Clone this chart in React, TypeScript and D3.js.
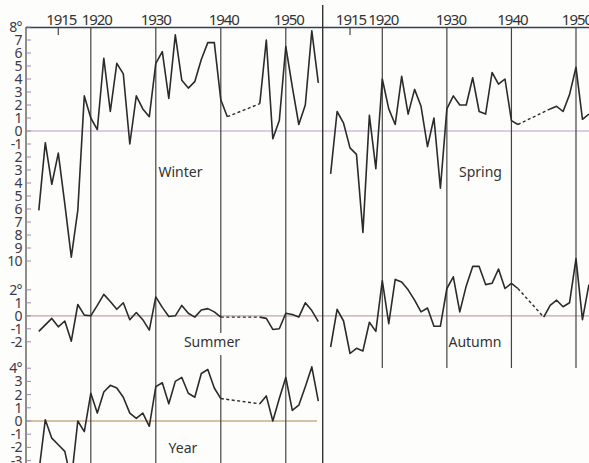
import React from 'react';
import * as d3 from 'd3';

const yearsLeft = [1912,1913,1914,1915,1916,1917,1918,1919,1920,1921,1922,1923,1924,1925,1926,1927,1928,1929,1930,1931,1932,1933,1934,1935,1936,1937,1938,1939,1940,1941,1942,1943,1944,1945,1946,1947,1948,1949,1950,1951,1952,1953,1954,1955];
const yearsRight = [1912,1913,1914,1915,1916,1917,1918,1919,1920,1921,1922,1923,1924,1925,1926,1927,1928,1929,1930,1931,1932,1933,1934,1935,1936,1937,1938,1939,1940,1941,1942,1943,1944,1945,1946,1947,1948,1949,1950,1951,1952];

const winter = [-6.1,-0.9,-4.1,-1.7,-5.6,-9.7,-6.1,2.7,1.0,0.1,5.6,1.5,5.2,4.4,-1.0,2.7,1.7,1.1,5.2,6.1,2.5,7.4,3.9,3.3,3.8,5.5,6.8,6.8,2.4,1.1,null,null,null,null,2.1,7.0,-0.6,0.8,6.5,3.4,0.5,2.0,7.7,3.7];
const summer = [-1.2,-0.7,-0.2,-0.85,-0.4,-1.95,0.87,0.05,0.0,0.8,1.65,1.1,0.5,1.0,-0.3,0.25,-0.3,-1.1,1.45,0.65,-0.05,0.0,0.8,0.2,-0.1,0.45,0.55,0.3,-0.1,null,null,null,null,null,-0.1,-0.2,-1.05,-1.0,0.2,0.1,-0.1,1.0,0.4,-0.45];
const yearMean = [-3.9,0.1,-1.3,-1.8,-2.3,-4.5,0.0,-0.8,2.1,0.6,2.2,2.7,2.5,1.8,0.6,0.2,0.6,-0.4,2.6,2.9,1.3,3.0,3.3,2.1,1.8,3.6,3.9,2.5,1.7,null,null,null,null,null,1.3,1.9,0.0,1.7,3.3,0.8,1.2,2.6,4.1,1.5];
const spring = [-3.3,1.5,0.6,-1.3,-1.8,-7.8,1.2,-2.9,4.0,1.7,0.5,4.2,1.3,3.2,1.9,-1.2,1.0,-4.4,1.7,2.7,2.0,2.0,4.1,1.5,1.3,4.5,3.6,4.0,0.8,0.5,null,null,null,null,1.7,1.9,1.5,2.8,4.9,0.9,1.3];
const autumn = [-2.4,0.5,-0.4,-2.9,-2.5,-2.7,-0.5,-1.2,2.7,-0.6,2.8,2.6,2.0,1.2,0.3,0.6,-0.8,-0.8,2.1,3.0,0.3,2.3,3.8,3.8,2.4,2.5,3.6,2.1,2.5,2.1,null,null,null,-0.1,0.8,1.2,0.7,1.0,4.4,-0.3,2.4];

const decadeYears = [1920, 1930, 1940, 1950];
const tickYear = 1915;

const winterTicks = [8,7,6,5,4,3,2,1,0,-1,-2,-3,-4,-5,-6,-7,-8,-9,-10];
const winterLabels = ['8°','7','6','5','4','3','2','1','0','-1','2','3','4','5','6','7','8','9','10'];
const summerTicks = [2,1,0,-1,-2];
const summerLabels = ['2°','1','0','-1','-2'];
const yearTicks = [4,3,2,1,0,-1,-2,-3];
const yearLabels = ['4°','3','2','1','0','-1','-2','-3'];

const W = 589, H = 463;
const FONT = "'Noto Sans', 'DejaVu Sans', sans-serif";
const INK = '#2b2b2b';

const xL = d3.scaleLinear().domain([1920, 1950]).range([90.8, 285.8]);
const xR = d3.scaleLinear().domain([1920, 1950]).range([382.3, 576]);
const yWin = d3.scaleLinear().domain([0, 8]).range([131, 27]);
const ySum = d3.scaleLinear().domain([0, 2]).range([315.8, 289.8]);
const yYr = d3.scaleLinear().domain([0, 4]).range([421, 368.2]);

function series(years: number[], vals: (number | null)[], x: any, y: any) {
  const pts = years.map((yr, i) => [yr, vals[i]] as [number, number | null]);
  const line = d3.line<[number, number | null]>()
    .defined(d => d[1] != null)
    .x(d => x(d[0]))
    .y(d => y(d[1] as number));
  const solid = line(pts) || '';
  const dashed: string[] = [];
  for (let i = 0; i < pts.length - 1; i++) {
    if (pts[i][1] != null && pts[i + 1][1] == null) {
      let j = i + 1;
      while (j < pts.length && pts[j][1] == null) j++;
      if (j < pts.length) {
        dashed.push(d3.line<[number, number | null]>().x(d => x(d[0])).y(d => y(d[1] as number))([pts[i], pts[j]]) || '');
      }
    }
  }
  return { solid, dashed };
}

function Series({ years, vals, x, y }: any) {
  const s = series(years, vals, x, y);
  return (
    <g>
      <path d={s.solid} fill="none" stroke={INK} strokeWidth={1.6} strokeLinejoin="round" />
      {s.dashed.map((d, i) => (
        <path key={i} d={d} fill="none" stroke={INK} strokeWidth={1.4} strokeDasharray="3,2.5" />
      ))}
    </g>
  );
}

function YAxis({ ticks, labels, y }: any) {
  return (
    <g>
      {ticks.map((t: number, i: number) => (
        <g key={i}>
          <line x1={26} x2={31} y1={y(t)} y2={y(t)} stroke="#9a8aa8" strokeWidth={1} />
          <text x={22} y={y(t)} dy="0.36em" textAnchor="end" fontSize={14} letterSpacing={-0.6}
            fontFamily={FONT} fill="#3a3a4a">{labels[i]}</text>
        </g>
      ))}
    </g>
  );
}

export default function App() {
  return (
    <svg width={W} height={H} viewBox={`0 0 ${W} ${H}`}
      style={{ position: 'absolute', left: 0, top: 0, background: '#fdfdfb' }}>
      <rect x={0} y={0} width={W} height={H} fill="#fdfdfb" />
      {/* zero lines */}
      <line x1={26} x2={W} y1={yWin(0)} y2={yWin(0)} stroke="#b6a0cc" strokeWidth={1.1} />
      <line x1={26} x2={W} y1={ySum(0)} y2={ySum(0)} stroke="#c9a0a8" strokeWidth={1.3} />
      <line x1={26} x2={317} y1={yYr(0)} y2={yYr(0)} stroke="#c8ad86" strokeWidth={1.3} />

      {/* frame */}
      <line x1={26} x2={W} y1={27.5} y2={27.5} stroke="#34404e" strokeWidth={1.4} />
      <line x1={26} x2={26} y1={27} y2={H} stroke="#444" strokeWidth={1.2} />
      <line x1={322.7} x2={322.7} y1={5} y2={H} stroke="#333" strokeWidth={1.4} />

      {/* decade lines left */}
      {decadeYears.map(yr => (
        yr === 1940 ? (
          <g key={yr}>
            <line x1={xL(yr)} x2={xL(yr)} y1={27} y2={333} stroke="#444" strokeWidth={1.2} />
            <line x1={xL(yr)} x2={xL(yr)} y1={355} y2={H} stroke="#444" strokeWidth={1.2} />
          </g>
        ) : (
          <line key={yr} x1={xL(yr)} x2={xL(yr)} y1={27} y2={H} stroke="#444" strokeWidth={1.2} />
        )
      ))}
      {/* decade lines right */}
      {decadeYears.map(yr => (
        <line key={'r' + yr} x1={xR(yr)} x2={xR(yr)} y1={27} y2={368} stroke="#444" strokeWidth={1.2} />
      ))}
      <line x1={xL(tickYear)} x2={xL(tickYear)} y1={27} y2={35} stroke="#444" strokeWidth={1.2} />
      <line x1={xR(tickYear)} x2={xR(tickYear)} y1={27} y2={35} stroke="#444" strokeWidth={1.2} />

      {/* year labels */}
      {[tickYear, ...decadeYears].map(yr => (
        <text key={'l' + yr} x={xL(yr) + (yr === 1920 ? 6 : yr === 1930 ? 0 : 3)} y={25} textAnchor="middle"
          fontSize={15} letterSpacing={-1} fontFamily={FONT} fill="#333">{yr}</text>
      ))}
      {[tickYear, ...decadeYears].map(yr => (
        <text key={'r' + yr} x={xR(yr) + (yr === 1930 ? 4 : 1)} y={25} textAnchor="middle"
          fontSize={15} letterSpacing={-1} fontFamily={FONT} fill="#333">{yr}</text>
      ))}

      {/* axes labels */}
      <YAxis ticks={winterTicks} labels={winterLabels} y={yWin} />
      <YAxis ticks={summerTicks} labels={summerLabels} y={ySum} />
      <YAxis ticks={yearTicks} labels={yearLabels} y={yYr} />

      {/* series */}
      <Series years={yearsLeft} vals={winter} x={xL} y={yWin} />
      <Series years={yearsLeft} vals={summer} x={xL} y={ySum} />
      <Series years={yearsLeft} vals={yearMean} x={xL} y={yYr} />
      <Series years={yearsRight} vals={spring} x={xR} y={yWin} />
      <Series years={yearsRight} vals={autumn} x={xR} y={ySum} />

      {/* panel titles */}
      <text x={180.5} y={177} textAnchor="middle" fontSize={14} fontFamily={FONT} fill="#333">Winter</text>
      <text x={480.5} y={177} textAnchor="middle" fontSize={14} fontFamily={FONT} fill="#333">Spring</text>
      <text x={212} y={347} textAnchor="middle" fontSize={14} fontFamily={FONT} fill="#333">Summer</text>
      <text x={475} y={347} textAnchor="middle" fontSize={14} fontFamily={FONT} fill="#333">Autumn</text>
      <text x={183} y={453} textAnchor="middle" fontSize={14} fontFamily={FONT} fill="#333">Year</text>
    </svg>
  );
}
